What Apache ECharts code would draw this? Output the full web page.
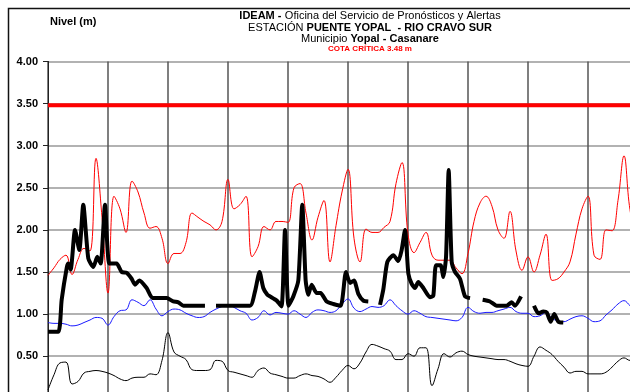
<!DOCTYPE html>
<html>
<head>
<meta charset="utf-8">
<script src="https://cdn.jsdelivr.net/npm/echarts@6/dist/echarts.min.js"></script>
<style>html,body{margin:0;padding:0;background:#fff;overflow:hidden;width:630px;height:392px}#c{width:700px;height:460px}</style>
</head>
<body>
<div id="c"></div>
<script>
// x in days (regular series sampled every half day)
var step = 0.5;
var yTicks = [0, 0.5, 1, 1.5, 2, 2.5, 3, 3.5, 4];
var cotaCritica = 3.48;

var maxHist = [1.46,1.55,1.65,1.70,1.47,1.65,1.78,1.75,2.85,2.15,
 1.25,2.40,2.25,1.97,2.58,2.45,2.20,2.02,2.04,1.90,
 1.60,1.72,1.72,1.85,2.20,2.15,2.10,2.06,2.00,2.10,
 2.60,2.25,2.30,2.40,1.68,1.80,2.04,2.00,2.10,2.10,
 2.09,2.50,2.55,2.20,1.88,2.15,2.35,1.62,2.05,2.45,
 2.72,1.90,1.62,2.01,1.97,1.97,2.03,2.10,2.55,2.80,
 1.95,1.73,1.85,1.97,1.70,1.64,1.64,1.64,1.55,1.48,
 1.72,2.10,2.32,2.40,2.28,2.00,1.90,2.22,1.75,1.52,
 1.68,1.50,1.70,1.95,1.40,1.42,1.50,1.62,1.95,2.25,
 2.40,1.70,1.65,2.00,1.99,2.35,2.88,2.24,2.00,2.00,2.00];

var meanHist = [0.90,0.89,0.89,0.88,0.86,0.87,0.90,0.93,0.96,0.95,
 0.87,0.97,1.04,1.05,1.17,1.14,1.10,1.17,1.06,0.98,
 1.03,1.06,1.05,1.01,0.98,0.96,0.97,1.02,1.06,1.09,
 1.11,1.08,1.04,1.01,0.93,0.96,1.04,0.99,1.02,1.01,
 1.00,1.04,1.00,0.96,1.02,1.05,1.04,1.02,1.04,1.12,
 1.18,1.07,1.03,1.06,1.09,1.08,1.10,1.17,1.10,1.04,
 1.00,1.04,1.01,0.97,0.96,0.95,0.94,0.93,0.92,0.96,
 1.08,1.03,1.01,1.02,1.02,1.04,1.06,1.08,1.03,1.01,
 1.01,0.97,0.98,1.02,0.95,0.92,0.91,0.94,0.97,0.98,
 0.95,0.91,0.92,0.99,1.05,1.12,1.16,1.10,1.05,1.05,1.05];

var minHist = [0.10,0.28,0.42,0.43,0.17,0.20,0.30,0.32,0.33,0.32,
 0.30,0.27,0.23,0.21,0.24,0.25,0.25,0.29,0.28,0.45,
 0.78,0.55,0.50,0.46,0.34,0.33,0.33,0.34,0.45,0.44,
 0.33,0.31,0.29,0.27,0.25,0.33,0.36,0.30,0.28,0.26,
 0.24,0.24,0.27,0.29,0.27,0.26,0.23,0.19,0.25,0.33,
 0.39,0.35,0.42,0.55,0.64,0.62,0.59,0.56,0.46,0.46,
 0.53,0.50,0.60,0.60,0.15,0.35,0.53,0.49,0.54,0.56,
 0.52,0.50,0.49,0.48,0.47,0.46,0.46,0.44,0.41,0.39,
 0.38,0.50,0.61,0.57,0.52,0.44,0.37,0.30,0.32,0.32,
 0.29,0.29,0.29,0.31,0.37,0.44,0.48,0.45,0.45,0.45,0.45];

// observed level: day positions and values (null = no data)
var obsDays = [0,0.86,1.14,1.56,1.69,1.89,2.25,2.61,2.94,3.36,3.78,4.11,4.39,4.75,5.11,5.72,6.14,6.56,6.97,7.25,7.61,8.22,8.72,9.89,10.44,10.86,11.28,13.08,
 13.5,
 14.0,16.83,17.25,17.63,17.94,18.28,18.5,19.06,19.46,19.75,20.04,20.44,20.86,21.19,21.47,21.69,21.97,22.39,22.72,23.22,23.78,24.39,24.83,25.17,25.5,25.86,26.28,26.69,
 27.2,
 27.67,27.94,28.28,28.78,29.19,29.47,29.75,30.03,30.31,30.58,30.86,31.28,31.83,32.11,32.33,32.72,32.94,33.17,33.39,33.64,33.92,34.33,34.75,35.17,
 35.7,
 36.22,36.83,37.39,38.22,38.64,38.92,39.42,
 40.0,
 40.5,40.86,41.28,41.56,41.89,42.19,42.53,42.94];
var obsLevel = [0.79,0.79,1.17,1.55,1.60,1.53,2.00,1.76,2.30,1.66,1.56,1.68,1.60,2.30,1.60,1.60,1.50,1.49,1.42,1.35,1.40,1.31,1.19,1.19,1.15,1.14,1.10,1.10,
 null,
 1.10,1.10,1.27,1.50,1.31,1.23,1.21,1.16,1.09,2.00,1.10,1.21,1.40,2.30,1.40,1.23,1.35,1.25,1.25,1.15,1.12,1.10,1.50,1.37,1.40,1.24,1.16,1.15,
 null,
 1.11,1.29,1.62,1.70,1.63,1.76,2.00,1.48,1.36,1.31,1.38,1.31,1.20,1.22,1.58,1.58,1.44,1.68,2.71,1.62,1.50,1.42,1.21,1.19,
 null,
 1.17,1.15,1.10,1.10,1.14,1.10,1.21,
 null,
 1.10,1.01,1.03,1.02,0.91,1.00,0.91,0.90];

function reg(arr){ return arr.map(function(v,i){ return [i*step, v]; }); }
function pairs(xs, ys){ return xs.map(function(x,i){ return [x, ys[i]]; }); }

var chart = echarts.init(document.getElementById('c'), null, {renderer:'canvas'});
var F = 'Liberation Sans, Arial, sans-serif';
chart.setOption({
  animation: false,
  backgroundColor: '#fff',
  grid: {left: 48, top: 61.5, width: 600, height: 336.8, containLabel: false},
  xAxis: {
    type: 'value', min: 0, max: 50, interval: 5,
    axisLine: {show: false}, axisTick: {show: false}, axisLabel: {show: false},
    splitLine: {show: true, lineStyle: {color: '#555', width: 1.5}}
  },
  yAxis: {
    type: 'value', min: yTicks[0], max: yTicks[yTicks.length-1], interval: 0.5,
    axisLine: {show: true, lineStyle: {color: '#222', width: 1}},
    axisTick: {show: true, length: 5, lineStyle: {color: '#222'}},
    axisLabel: {color: '#000', fontFamily: F, fontWeight: 'bold', fontSize: 11, margin: 10,
      formatter: function(v){ return v.toFixed(2); }},
    splitLine: {show: true, lineStyle: {color: '#999', width: 1.5}}
  },
  graphic: [
    {type: 'rect', z: 100, silent: true, shape: {x: 8.5, y: 8.5, width: 700, height: 500},
      style: {fill: 'none', stroke: '#111', lineWidth: 1.5}},
    {type: 'text', z: 100, x: 50, y: 22, style: {text: 'Nivel (m)', font: 'bold 11px ' + F, fill: '#000', align: 'left', verticalAlign: 'middle'}},
    {type: 'text', z: 100, x: 370, y: 16, style: {text: '{b|IDEAM -} {n|Oficina del Servicio de Pronósticos y Alertas}', align: 'center', verticalAlign: 'middle',
      rich: {b: {font: 'bold 11px ' + F, fill: '#000'}, n: {font: '11px ' + F, fill: '#000'}}}},
    {type: 'text', z: 100, x: 370, y: 28, style: {text: '{n|ESTACIÓN }{b|PUENTE YOPAL  - RIO CRAVO SUR}', align: 'center', verticalAlign: 'middle',
      rich: {b: {font: 'bold 11px ' + F, fill: '#000'}, n: {font: '11px ' + F, fill: '#000'}}}},
    {type: 'text', z: 100, x: 370, y: 39, style: {text: '{n|Municipio }{b|Yopal - Casanare}', align: 'center', verticalAlign: 'middle',
      rich: {b: {font: 'bold 11px ' + F, fill: '#000'}, n: {font: '11px ' + F, fill: '#000'}}}},
    {type: 'text', z: 100, x: 370, y: 49, style: {text: 'COTA CRÍTICA 3.48 m', font: 'bold 8px ' + F, fill: '#ff0000', align: 'center', verticalAlign: 'middle'}}
  ],
  series: [
    {name: 'Cota crítica', type: 'line', data: [[0, cotaCritica],[50, cotaCritica]], showSymbol: false,
      lineStyle: {color: '#ff0000', width: 4}, z: 2},
    {name: 'Máximo', type: 'line', data: reg(maxHist), showSymbol: false, smooth: 0.4,
      lineStyle: {color: '#ff0000', width: 1}, z: 3},
    {name: 'Medio', type: 'line', data: reg(meanHist), showSymbol: false, smooth: 0.4,
      lineStyle: {color: '#1a1aff', width: 1}, z: 3},
    {name: 'Mínimo', type: 'line', data: reg(minHist), showSymbol: false, smooth: 0.4,
      lineStyle: {color: '#000', width: 1}, z: 3},
    {name: 'Nivel observado', type: 'line', data: pairs(obsDays, obsLevel), showSymbol: false, smooth: 0.2,
      connectNulls: false, lineStyle: {color: '#000', width: 4, join: 'round', cap: 'butt'}, z: 4}
  ]
});
</script>
</body>
</html>
